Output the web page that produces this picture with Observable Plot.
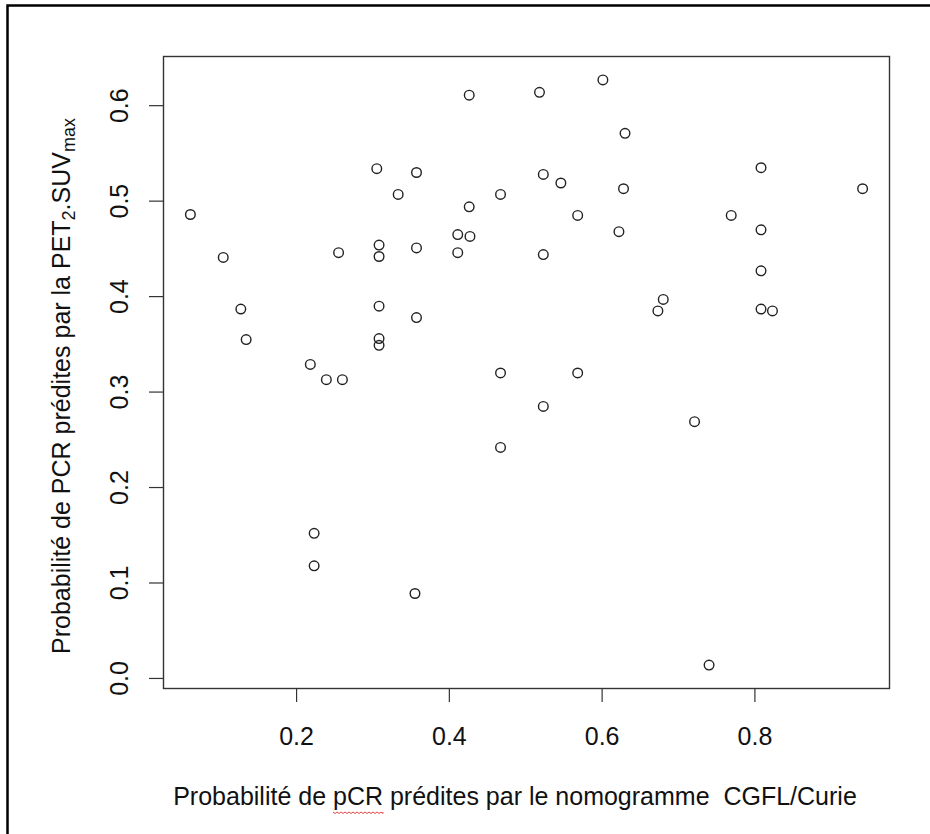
<!DOCTYPE html>
<html>
<head>
<meta charset="utf-8">
<script src="https://cdn.jsdelivr.net/npm/d3@7"></script>
<script src="https://cdn.jsdelivr.net/npm/@observablehq/plot@0.6"></script>
<style>
  html, body { margin: 0; padding: 0; background: white; }
  #chart svg { display: block; }
</style>
</head>
<body>
<div id="chart"></div>
<script>
// Predicted pCR probability (CGFL/Curie nomogram) vs predicted PCR probability (PET2.SUVmax)
const nomogram = [
  0.061, 0.104, 0.127, 0.134, 0.218, 0.239, 0.260, 0.223, 0.223, 0.255,
  0.305, 0.308, 0.308, 0.308, 0.308, 0.308, 0.333, 0.357, 0.357, 0.357,
  0.355, 0.411, 0.427, 0.411, 0.426, 0.426, 0.467, 0.467, 0.467, 0.518,
  0.601, 0.630, 0.523, 0.546, 0.628, 0.568, 0.622, 0.523, 0.680, 0.673,
  0.808, 0.769, 0.808, 0.808, 0.808, 0.823, 0.941, 0.568, 0.523, 0.721,
  0.740
];
const petSuvmax = [
  0.486, 0.441, 0.387, 0.355, 0.329, 0.313, 0.313, 0.152, 0.118, 0.446,
  0.534, 0.454, 0.442, 0.390, 0.356, 0.349, 0.507, 0.530, 0.451, 0.378,
  0.089, 0.465, 0.463, 0.446, 0.611, 0.494, 0.507, 0.320, 0.242, 0.614,
  0.627, 0.571, 0.528, 0.519, 0.513, 0.485, 0.468, 0.444, 0.397, 0.385,
  0.535, 0.485, 0.470, 0.427, 0.387, 0.385, 0.513, 0.320, 0.285, 0.269,
  0.014
];
const xTicks = [0.2, 0.4, 0.6, 0.8];
const yTicks = [0.0, 0.1, 0.2, 0.3, 0.4, 0.5, 0.6];
const xLabelParts = ["Probabilité de ", "pCR", " prédites par le nomogramme  CGFL/Curie"];
const yLabelParts = ["Probabilité de PCR prédites par la PET", "2", ".SUV", "max"];

const data = nomogram.map((x, i) => ({x, y: petSuvmax[i]}));

// R-style axis extent: data range padded by 4% each side
function rDomain(values) {
  const [a, b] = d3.extent(values);
  const pad = (b - a) * 0.04;
  return [a - pad, b + pad];
}

const font = "'Liberation Sans', Arial, sans-serif";
const fs = 25;

const chart = Plot.plot({
  width: 930,
  height: 834,
  marginLeft: 163,
  marginRight: 41,
  marginTop: 56,
  marginBottom: 146,
  style: {fontFamily: font, fontSize: fs + "px", background: "white", color: "#111"},
  x: {domain: rDomain(nomogram)},
  y: {domain: rDomain(petSuvmax)},
  marks: [
    Plot.frame({stroke: "#333", strokeWidth: 1.4}),
    Plot.axisX(xTicks, {
      tickSize: 14, tickPadding: 25, fontSize: fs, stroke: "#333", strokeWidth: 1.2,
      tickFormat: d3.format(".1f"), label: null
    }),
    Plot.axisY(yTicks, {
      tickSize: 14, stroke: "#333", strokeWidth: 1.2, tickFormat: () => "", label: null
    }),
    Plot.text(yTicks, {
      frameAnchor: "left", y: d => d, text: d => d.toFixed(1),
      rotate: -90, dx: -36, textAnchor: "middle", lineAnchor: "bottom",
      fontSize: fs, fill: "#111"
    }),
    Plot.dot(data, {x: "x", y: "y", r: 4.8, stroke: "#222", strokeWidth: 1.4, fill: "none"})
  ]
});

const svg = d3.select(chart);

// outer figure border (top and left visible)
svg.append("rect")
  .attr("x", 7.5).attr("y", 5.5)
  .attr("width", 1000).attr("height", 1000)
  .attr("fill", "none").attr("stroke", "black").attr("stroke-width", 2.5);

// x axis title
const xt = svg.append("text")
  .attr("x", 515).attr("y", 805)
  .attr("text-anchor", "middle")
  .attr("font-family", font).attr("font-size", fs)
  .attr("fill", "#111")
  .style("white-space", "pre");
xt.append("tspan").text(xLabelParts[0]);
const pcr = xt.append("tspan").text(xLabelParts[1]);
xt.append("tspan").text(xLabelParts[2]);

// y axis title with subscripts
const yt = svg.append("text")
  .attr("transform", "translate(70,386) rotate(-90)")
  .attr("text-anchor", "middle")
  .attr("font-family", font).attr("font-size", fs)
  .attr("fill", "#111");
yt.append("tspan").text(yLabelParts[0]);
yt.append("tspan").text(yLabelParts[1]).attr("font-size", fs * 0.72).attr("dy", 5);
yt.append("tspan").text(yLabelParts[2]).attr("dy", -5);
yt.append("tspan").text(yLabelParts[3]).attr("font-size", fs * 0.72).attr("dy", 5);

document.getElementById("chart").appendChild(chart);

// red wavy spell-check underline under "pCR", placed from the text's own metrics
const node = xt.node();
const total = node.getComputedTextLength();
const startX = 515 - total / 2 + node.getSubStringLength(0, xLabelParts[0].length);
const len = node.getSubStringLength(xLabelParts[0].length, xLabelParts[1].length);
const wy = 812;
let d = `M${startX},${wy}`;
for (let xx = startX, k = 0; xx < startX + len; xx += 2, k++) {
  d += `L${Math.min(xx + 2, startX + len)},${wy + (k % 2 === 0 ? 1.5 : 0)}`;
}
svg.append("path").attr("d", d).attr("fill", "none")
  .attr("stroke", "#e03030").attr("stroke-width", 0.9);
</script>
</body>
</html>
